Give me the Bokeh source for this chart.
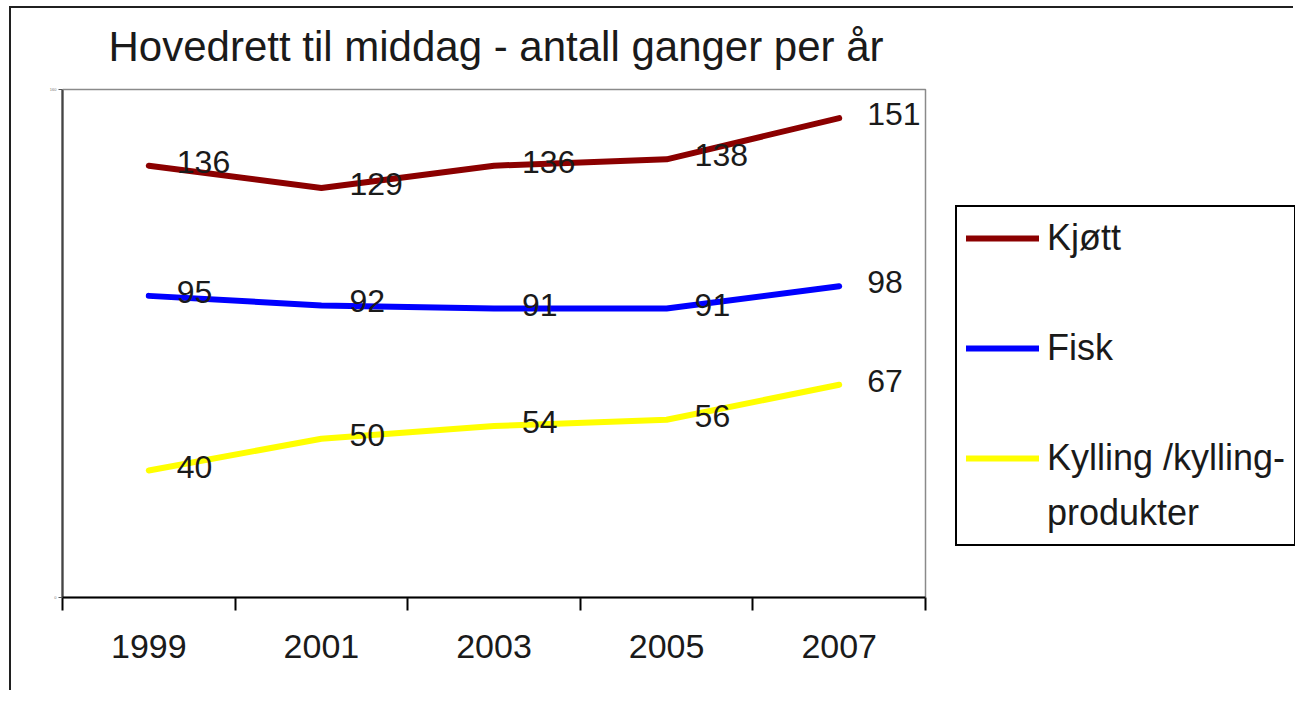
from bokeh.plotting import figure
from bokeh.models import Range1d, FixedTicker, Legend, LegendItem, BoxAnnotation, Label
from bokeh.embed import file_html
from bokeh.resources import INLINE
from bokeh.core.properties import value

# ---- data ----
years = ["1999", "2001", "2003", "2005", "2007"]
kjott = [136, 129, 136, 138, 151]
fisk = [95, 92, 91, 91, 98]
kylling = [40, 50, 54, 56, 67]
legend_labels = ["Kjøtt", "Fisk", "Kylling /kylling-", "produkter"]
title_text = "Hovedrett til middag - antall ganger per år"
y_ticks = [0, 160]

FONT = "Liberation Sans"
TXT = "#1a1a1a"

n = len(years)
xs = [i + 0.5 for i in range(n)]

W, H = 1284, 684
LEFT, TOP, AXIS_RIGHT, ZERO_Y = 51, 81, 914, 589   # canvas pixels of the category area
PAD = 3                                            # frame extends a few px below zero
BOTTOM = ZERO_Y + PAD
ppu = (ZERO_Y - TOP) / (y_ticks[-1] - y_ticks[0])  # pixels per unit
x_end = n * (W - LEFT) / (AXIS_RIGHT - LEFT)         # frame extends under legend
y_start = y_ticks[0] - PAD / ppu
y_end = y_ticks[-1] + TOP / ppu                     # frame extends up under title

p = figure(width=W, height=H, output_backend="svg", toolbar_location=None,
           x_range=Range1d(0, x_end), y_range=Range1d(y_start, y_end),
           min_border_left=LEFT, min_border_right=0, min_border_top=0,
           min_border_bottom=H - BOTTOM, title=None)
p.styles = {"border-left": "2px solid #202020", "border-top": "2px solid #202020",
            "margin-left": "9px", "margin-top": "6px"}

p.background_fill_color = "white"
p.border_fill_color = "white"
p.outline_line_color = None
p.xgrid.visible = False
p.ygrid.visible = False

# title as a label in screen units (relative to frame bottom-left)
p.add_layout(Label(x=97 - LEFT, y=BOTTOM - 38, x_units="screen", y_units="screen",
                   text=title_text, text_font=FONT, text_font_size="42px",
                   text_color=TXT, text_align="left", text_baseline="alphabetic"))

# plot-area border (grey) over the category span
p.add_layout(BoxAnnotation(left=0, right=n, bottom=y_ticks[0], top=y_ticks[-1],
                           fill_alpha=0, line_color="#8a8a8a", line_alpha=1, line_width=1.5))
# category axis line
seg = p.segment(x0=[0], y0=[y_ticks[0]], x1=[n], y1=[y_ticks[0]],
                line_color="black", line_width=2)
seg.level = "overlay"

# x axis: ticks between categories, labels at centres
xa = p.xaxis[0]
xa.ticker = FixedTicker(ticks=xs, minor_ticks=list(range(n + 1)))
xa.major_label_overrides = {x: y for x, y in zip(xs, years)}
xa.major_tick_out = 0
xa.major_tick_in = 0
xa.minor_tick_out = 10
xa.minor_tick_in = PAD
xa.minor_tick_line_color = "black"
xa.minor_tick_line_width = 2
xa.axis_line_color = None
xa.major_label_text_font = FONT
xa.major_label_text_font_size = "34px"
xa.major_label_text_color = TXT
xa.major_label_standoff = 24

ya = p.yaxis[0]
ya.bounds = (y_ticks[0], y_ticks[-1])
ya.ticker = FixedTicker(ticks=y_ticks, minor_ticks=[])
ya.major_tick_out = 4
ya.major_tick_in = 0
ya.major_tick_line_color = "#555555"
ya.axis_line_color = "black"
ya.axis_line_width = 2
ya.major_label_text_font_size = "4px"
ya.major_label_text_color = "#777777"
ya.major_label_standoff = 2

series = [(kjott, "#8B0000"), (fisk, "#0000FF"), (kylling, "#FFFF00")]
renderers = []
for vals, col in series:
    r = p.line(xs, vals, line_color=col, line_width=6, line_join="round", line_cap="round")
    renderers.append(r)

for vals, col in series:
    p.text(x=xs, y=vals, text=[str(v) for v in vals], x_offset=28, y_offset=-4,
           text_align="left", text_baseline="middle", text_font=value(FONT),
           text_font_size="32px", text_color=TXT)

dummy = p.line(xs, kylling, line_alpha=0)

items = [
    LegendItem(label=legend_labels[0], renderers=[renderers[0]]),
    LegendItem(label=" ", renderers=[dummy]),
    LegendItem(label=legend_labels[1], renderers=[renderers[1]]),
    LegendItem(label="  ", renderers=[dummy]),
    LegendItem(label=legend_labels[2], renderers=[renderers[2]]),
    LegendItem(label=legend_labels[3], renderers=[dummy]),
]
legend = Legend(items=items, location=(944 - LEFT, BOTTOM - 538), orientation="vertical",
                glyph_width=73, glyph_height=44, label_height=44, spacing=11,
                padding=9, margin=0, label_standoff=8,
                border_line_color="black", border_line_alpha=1, border_line_width=2,
                background_fill_color="white", background_fill_alpha=1,
                label_text_font=FONT, label_text_font_size="36px",
                label_text_color=TXT)
p.add_layout(legend, "center")

open("out.html", "w").write(file_html(p, INLINE))
